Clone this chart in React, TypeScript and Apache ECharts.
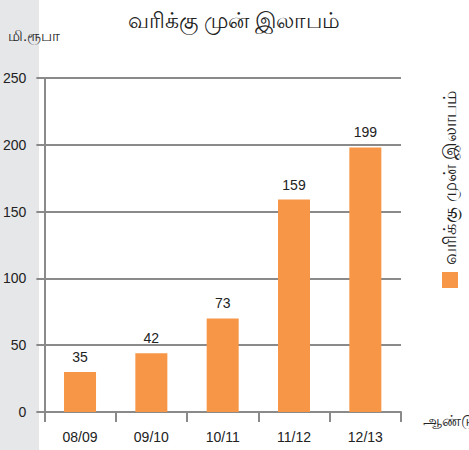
import React, { useEffect, useRef } from "react";
import * as echarts from "echarts";

const categories = ["08/09", "09/10", "10/11", "11/12", "12/13"];
const barValues = [30, 44, 70, 159, 198];
const barLabels = ["35", "42", "73", "159", "199"];
const titleText = "வரிக்கு முன் இலாபம்";
const seriesName = "வரிக்கு முன் இலாபம்";
const yAxisName = "மி.ரூபா";
const xAxisName = "ஆண்டு";

const FONT = "'Liberation Sans', Arial, 'Noto Sans', sans-serif";
const GREY = "#8a8a8a";
const ORANGE = "#f79646";

export default function App() {
  const ref = useRef<HTMLDivElement>(null);
  useEffect(() => {
    if (!ref.current) return;
    const chart = echarts.init(ref.current, null, { renderer: "svg" });
    chart.setOption({
      animation: false,
      backgroundColor: "#ffffff",
      textStyle: { fontFamily: FONT },
      title: {
        text: titleText,
        left: 229,
        top: 4,
        textAlign: "center",
        textStyle: { fontSize: 22, fontWeight: "normal", color: "#222", fontFamily: FONT },
      },
      graphic: [
        { type: "rect", left: 0, top: 0, z: -10, shape: { width: 39, height: 450 }, style: { fill: "#e6e7e9" } },
        { type: "rect", shape: { x: 442, y: 272, width: 16, height: 16 }, style: { fill: ORANGE } },
        {
          type: "text",
          x: 450,
          y: 265,
          rotation: Math.PI / 2,
          style: {
            text: seriesName,
            fontSize: 18,
            fill: "#222",
            fontFamily: FONT,
            textAlign: "left",
            textVerticalAlign: "middle",
          },
        },
        {
          type: "text",
          x: 8,
          y: 35,
          style: { text: yAxisName, fontSize: 15, fill: "#222", fontFamily: FONT, textVerticalAlign: "middle" },
        },
        {
          type: "text",
          x: 423,
          y: 420,
          style: { text: xAxisName, fontSize: 15, fill: "#222", fontFamily: FONT, textVerticalAlign: "middle" },
        },
      ],
      grid: { left: 42, top: 78, width: 359, height: 334, containLabel: false },
      xAxis: {
        type: "category",
        data: categories,
        axisLine: { lineStyle: { color: GREY, width: 2 } },
        axisTick: { show: true, alignWithLabel: false, length: 10, lineStyle: { color: GREY, width: 2 } },
        axisLabel: { fontSize: 14, color: "#222", margin: 18, fontFamily: FONT },
      },
      yAxis: {
        type: "value",
        min: 0,
        max: 250,
        interval: 50,
        axisLine: { show: true, lineStyle: { color: GREY, width: 2 } },
        axisTick: { show: true, length: 8, lineStyle: { color: GREY, width: 2 } },
        axisLabel: { fontSize: 14, color: "#222", margin: 18, fontFamily: FONT },
        splitLine: { show: true, lineStyle: { color: GREY, width: 2 } },
      },
      series: [
        {
          name: seriesName,
          type: "bar",
          data: barValues,
          barWidth: 32,
          itemStyle: { color: ORANGE },
          label: {
            show: true,
            position: "top",
            distance: 8,
            fontSize: 14,
            color: "#222",
            fontFamily: FONT,
            formatter: (p: any) => barLabels[p.dataIndex],
          },
        },
      ],
    });
    return () => chart.dispose();
  }, []);
  return <div ref={ref} style={{ position: "absolute", left: 0, top: 0, width: 469, height: 450 }} />;
}
